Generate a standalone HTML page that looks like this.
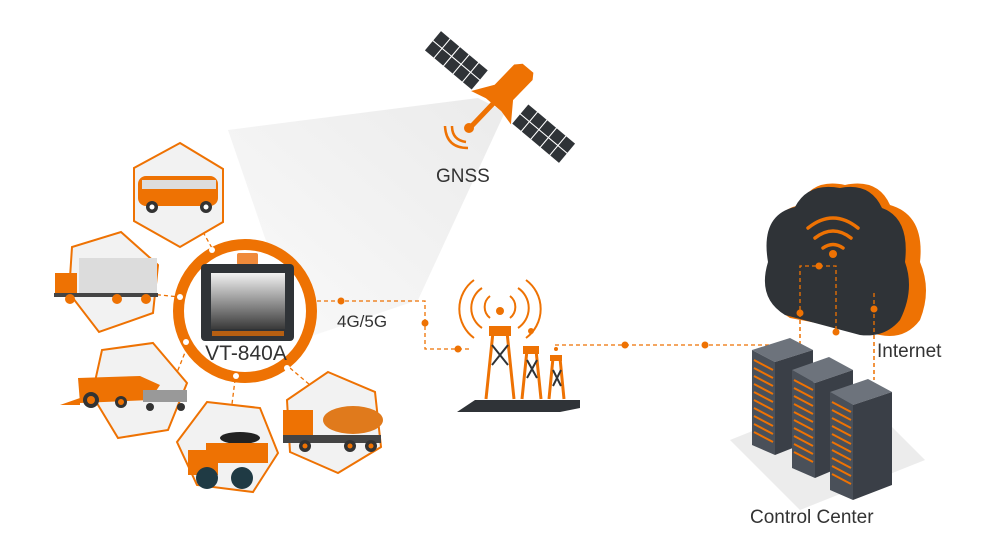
<!DOCTYPE html>
<html><head><meta charset="utf-8"><style>
html,body{margin:0;padding:0;background:#fff;}
svg{display:block;}
text{font-family:"Liberation Sans",sans-serif;fill:#333;}
</style></head><body>
<svg width="1000" height="540" viewBox="0 0 1000 540" xmlns="http://www.w3.org/2000/svg">
<defs>
<linearGradient id="beam" x1="1" y1="0" x2="0" y2="1">
<stop offset="0" stop-color="#ebebeb"/><stop offset="1" stop-color="#fafafa"/>
</linearGradient>
<linearGradient id="scr" x1="0" y1="0" x2="0" y2="1">
<stop offset="0" stop-color="#f2f2f2"/><stop offset="1" stop-color="#3a3a3a"/>
</linearGradient>
</defs>
<!-- beam -->
<polygon points="478,98 228,130 300,340 418,300 505,112" fill="url(#beam)"/>
<!-- satellite -->
<g transform="translate(500,97) rotate(40)">
<g fill="#2f3337" stroke="#fff" stroke-width="1">
<rect x="-88" y="-13" width="12.4" height="13"/><rect x="-75.6" y="-13" width="12.4" height="13"/><rect x="-63.2" y="-13" width="12.4" height="13"/><rect x="-50.8" y="-13" width="12.4" height="13"/><rect x="-38.4" y="-13" width="12.4" height="13"/>
<rect x="-88" y="0" width="12.4" height="13"/><rect x="-75.6" y="0" width="12.4" height="13"/><rect x="-63.2" y="0" width="12.4" height="13"/><rect x="-50.8" y="0" width="12.4" height="13"/><rect x="-38.4" y="0" width="12.4" height="13"/>
<rect x="26" y="-13" width="12.4" height="13"/><rect x="38.4" y="-13" width="12.4" height="13"/><rect x="50.8" y="-13" width="12.4" height="13"/><rect x="63.2" y="-13" width="12.4" height="13"/><rect x="75.6" y="-13" width="12.4" height="13"/>
<rect x="26" y="0" width="12.4" height="13"/><rect x="38.4" y="0" width="12.4" height="13"/><rect x="50.8" y="0" width="12.4" height="13"/><rect x="63.2" y="0" width="12.4" height="13"/><rect x="75.6" y="0" width="12.4" height="13"/>
</g>
<path d="M-10,-34 L-4,-40 L10,-40 L14,-34 L12,-6 L26,14 L10,10 L-10,10 L-26,14 L-12,-6 Z" fill="#ee7203"/>
<line x1="-1" y1="8" x2="-3" y2="40" stroke="#ee7203" stroke-width="5"/>
</g>
<circle cx="469" cy="128" r="5" fill="#ee7203"/>
<path d="M452,126 Q452,140 466,142" stroke="#ee7203" stroke-width="2.5" fill="none"/>
<path d="M445,126 Q446,148 468,148" stroke="#ee7203" stroke-width="2.5" fill="none"/>
<text x="436" y="182" font-size="19">GNSS</text>

<!-- dashed connectors -->
<g stroke="#ee7203" stroke-width="1.3" stroke-dasharray="4,3" fill="none">
<polyline points="317,301 425,301 425,349 470,349"/>
<line x1="555" y1="345" x2="800" y2="345"/>
<polyline points="800,345 800,266 836,266 836,330"/>
<line x1="874" y1="293" x2="874" y2="380"/>
<line x1="203" y1="232" x2="213" y2="250"/>
<line x1="150" y1="294" x2="180" y2="297"/>
<line x1="170" y1="390" x2="190" y2="340"/>
<line x1="236" y1="372" x2="232" y2="404"/>
<line x1="290" y1="368" x2="310" y2="385"/>
</g>
<g fill="#ee7203">
<circle cx="341" cy="301" r="3.5"/><circle cx="425" cy="323" r="3.5"/><circle cx="458" cy="349" r="3.5"/>
<circle cx="625" cy="345" r="3.5"/><circle cx="705" cy="345" r="3.5"/>
</g>

<!-- hexagons -->
<g fill="#f2f2f2" stroke="#ee7203" stroke-width="2">
<polygon points="180,143 223,169 223,222 180,247 134,221 134,168"/>
<polygon points="121,232 158,265 153,313 99,332 69,293 72,247"/>
<polygon points="153,343 187,383 168,430 118,438 92,395 102,350"/>
<polygon points="207,402 260,408 278,453 253,492 197,485 177,442"/>
<polygon points="328,372 375,392 381,447 338,473 290,452 287,400"/>
</g>
<!-- bus -->
<rect x="138" y="176" width="80" height="30" rx="8" fill="#ee7203"/>
<rect x="142" y="180" width="74" height="9" fill="#ddd"/>
<circle cx="152" cy="207" r="6" fill="#333"/><circle cx="152" cy="207" r="2.5" fill="#fff"/>
<circle cx="206" cy="207" r="6" fill="#333"/><circle cx="206" cy="207" r="2.5" fill="#fff"/>
<!-- container truck -->
<rect x="79" y="258" width="78" height="35" fill="#dcdcdc"/>
<rect x="55" y="273" width="22" height="22" fill="#ee7203"/>
<rect x="54" y="293" width="104" height="4" fill="#444"/>
<circle cx="70" cy="299" r="5" fill="#ee7203"/><circle cx="117" cy="299" r="5" fill="#ee7203"/><circle cx="146" cy="299" r="5" fill="#ee7203"/>
<!-- harvester -->
<path d="M78,378 L140,376 L160,385 L150,400 L80,403 Z" fill="#ee7203"/>
<polygon points="60,405 80,398 80,405" fill="#ee7203"/>
<rect x="143" y="390" width="44" height="12" fill="#999"/>
<circle cx="91" cy="400" r="8" fill="#333"/><circle cx="91" cy="400" r="4" fill="#ee7203"/>
<circle cx="121" cy="402" r="6" fill="#333"/><circle cx="121" cy="402" r="3" fill="#ee7203"/>
<circle cx="150" cy="407" r="4" fill="#333"/><circle cx="181" cy="407" r="4" fill="#333"/>
<!-- dump truck -->
<ellipse cx="240" cy="438" rx="20" ry="6" fill="#222"/>
<rect x="206" y="443" width="62" height="20" fill="#ee7203"/>
<rect x="188" y="450" width="30" height="25" fill="#ee7203"/>
<circle cx="207" cy="478" r="11" fill="#1f3a44"/><circle cx="242" cy="478" r="11" fill="#1f3a44"/>
<!-- mixer -->
<rect x="283" y="410" width="30" height="33" fill="#ee7203"/>
<ellipse cx="353" cy="420" rx="30" ry="14" fill="#e07a1c"/>
<rect x="283" y="435" width="98" height="8" fill="#444"/>
<circle cx="305" cy="446" r="6" fill="#333"/><circle cx="305" cy="446" r="2.5" fill="#ee7203"/>
<circle cx="350" cy="446" r="6" fill="#333"/><circle cx="350" cy="446" r="2.5" fill="#ee7203"/>
<circle cx="371" cy="446" r="6" fill="#333"/><circle cx="371" cy="446" r="2.5" fill="#ee7203"/>

<!-- ring -->
<circle cx="245" cy="311" r="66.5" fill="#fff" stroke="#ee7203" stroke-width="11"/>
<g fill="#fff"><circle cx="212" cy="250" r="3"/><circle cx="180" cy="297" r="3"/><circle cx="186" cy="342" r="3"/><circle cx="236" cy="376" r="3"/><circle cx="287" cy="368" r="3"/></g>
<rect x="237" y="253" width="21" height="12" rx="2" fill="#f08a3a"/>
<rect x="201" y="264" width="93" height="77" rx="4" fill="#2f3337"/>
<rect x="211" y="273" width="74" height="56" fill="url(#scr)"/>
<rect x="212" y="331" width="72" height="5" fill="#ee7203" opacity="0.7"/>
<text x="246" y="360" font-size="21" text-anchor="middle">VT-840A</text>
<text x="337" y="327" font-size="17">4G/5G</text>

<!-- towers -->
<g fill="none" stroke="#ee7203" stroke-width="2">
<path d="M490,296 A14,14 0 0,0 490,318"/><path d="M510,296 A14,14 0 0,1 510,318"/>
<path d="M482,288 A24,24 0 0,0 482,328"/><path d="M518,288 A24,24 0 0,1 518,328"/>
<path d="M474,280 A36,36 0 0,0 474,338"/><path d="M526,280 A36,36 0 0,1 526,338"/>
</g>
<polygon points="457,412 475,400 580,400 580,408 560,412" fill="#2f3337"/>
<g stroke="#ee7203" stroke-width="3" fill="none">
<polyline points="486,399 493,332 507,332 514,399"/>
<polyline points="522,399 527,350 536,350 541,399"/>
<polyline points="549,399 553,358 560,358 564,399"/>
</g>
<g stroke="#2f3337" stroke-width="2"><path d="M492,345 L508,365 M508,345 L492,365 M527,360 L537,378 M537,360 L527,378 M553,370 L561,386 M561,370 L553,386"/></g>
<rect x="489" y="326" width="22" height="10" fill="#ee7203"/><rect x="523" y="346" width="16" height="8" fill="#ee7203"/><rect x="550" y="355" width="12" height="6" fill="#ee7203"/>
<circle cx="500" cy="311" r="4" fill="#ee7203"/><circle cx="531" cy="331" r="3" fill="#ee7203"/><circle cx="556" cy="349" r="2" fill="#ee7203"/>

<!-- cloud -->
<path d="M790,318 Q760,300 772,262 Q764,212 800,205 Q812,178 845,185 Q878,178 890,205 Q925,215 920,262 Q932,290 920,320 Q905,340 880,335 Z" fill="#ee7203"/>
<path d="M785,315 Q757,298 768,262 Q760,215 795,207 Q808,182 840,188 Q870,182 882,208 Q910,218 905,262 Q915,290 900,320 Q885,338 860,335 Z" fill="#2f3337"/>
<g fill="none" stroke="#ee7203" stroke-width="3.5" stroke-linecap="round">
<path d="M808,228 Q833,208 858,228"/><path d="M815,238 Q833,224 851,238"/><path d="M823,248 Q833,241 843,248"/>
</g>
<circle cx="833" cy="254" r="4" fill="#ee7203"/>
<g stroke="#ee7203" stroke-width="1.3" stroke-dasharray="4,3" fill="none">
<polyline points="800,345 800,266 836,266 836,330"/>
<line x1="874" y1="293" x2="874" y2="380"/>
</g>
<g fill="#ee7203"><circle cx="819" cy="266" r="3.5"/><circle cx="800" cy="313" r="3.5"/><circle cx="836" cy="332" r="3.5"/><circle cx="874" cy="309" r="3.5"/></g>
<text x="877" y="357" font-size="19">Internet</text>

<!-- servers -->
<polygon points="730,440 855,390 925,460 800,510" fill="#ececec"/>
<g>
<polygon points="752,350 790,338 813,350 775,362" fill="#6d737c"/>
<polygon points="752,350 775,362 775,455 752,445" fill="#4a5059"/>
<polygon points="775,362 813,350 813,440 775,455" fill="#3a3f47"/>
<polygon points="792,370 829,357 853,370 815,383" fill="#6d737c"/>
<polygon points="792,370 815,383 815,478 792,468" fill="#4a5059"/>
<polygon points="815,383 853,370 853,462 815,478" fill="#3a3f47"/>
<polygon points="830,392 868,379 892,392 853,405" fill="#6d737c"/>
<polygon points="830,392 853,405 853,500 830,490" fill="#4a5059"/>
<polygon points="853,405 892,392 892,485 853,500" fill="#3a3f47"/>
</g>
<g stroke="#ee7203" stroke-width="2">
<path d="M754,360 L773,370 M754,368 L773,378 M754,376 L773,386 M754,384 L773,394 M754,392 L773,402 M754,400 L773,410 M754,408 L773,418 M754,416 L773,426 M754,424 L773,434 M754,432 L773,442"/>
<path d="M794,380 L813,390 M794,388 L813,398 M794,396 L813,406 M794,404 L813,414 M794,412 L813,422 M794,420 L813,430 M794,428 L813,438 M794,436 L813,446 M794,444 L813,454 M794,452 L813,462"/>
<path d="M832,402 L851,412 M832,410 L851,420 M832,418 L851,428 M832,426 L851,436 M832,434 L851,444 M832,442 L851,452 M832,450 L851,460 M832,458 L851,468 M832,466 L851,476 M832,474 L851,484"/>
</g>
<text x="750" y="523" font-size="19">Control Center</text>
</svg>
</body></html>
